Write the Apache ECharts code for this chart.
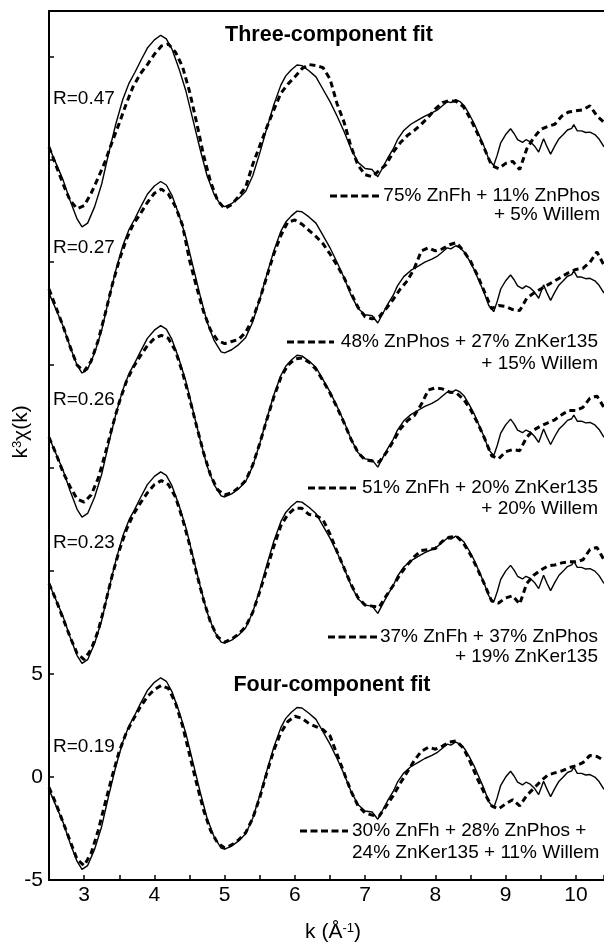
<!DOCTYPE html>
<html>
<head>
<meta charset="utf-8">
<script src="https://cdn.jsdelivr.net/npm/echarts@6/dist/echarts.min.js"></script>
<style>
  html, body { margin: 0; padding: 0; background: #fff; }
  #main { width: 604px; height: 945px; }
</style>
</head>
<body>
<div id="main"></div>
<script>
// measured spectrum (solid line), same data in every panel
var kData = [2.5, 2.6, 2.7, 2.8, 2.9, 2.97, 3.05, 3.15, 3.25, 3.35, 3.45, 3.55, 3.64, 3.72, 3.8, 3.9,
  4.0, 4.09, 4.17, 4.25, 4.35, 4.45, 4.55, 4.65, 4.75, 4.85, 4.95, 5.0, 5.1, 5.2, 5.3, 5.4, 5.5, 5.6,
  5.7, 5.8, 5.87, 5.95, 6.03, 6.1, 6.2, 6.3, 6.4, 6.5, 6.6, 6.7, 6.8, 6.9, 7.0, 7.1, 7.18, 7.25, 7.32,
  7.4, 7.46, 7.55, 7.65, 7.75, 7.85, 7.95, 8.03, 8.1, 8.17, 8.22, 8.29, 8.35, 8.41, 8.48, 8.55, 8.62,
  8.69, 8.76, 8.83, 8.88, 8.93, 9.0, 9.07, 9.12, 9.17, 9.24, 9.29, 9.35, 9.41, 9.47, 9.54, 9.59, 9.64,
  9.7, 9.76, 9.82, 9.88, 9.94, 9.97, 10.02, 10.08, 10.14, 10.2, 10.27, 10.33, 10.4];
var chiData = [-0.6, -1.4, -2.2, -3.2, -4.1, -4.48, -4.3, -3.5, -2.4, -0.9, 0.5, 1.7, 2.5, 3.0, 3.55, 4.2,
  4.6, 4.82, 4.65, 4.15, 3.2, 2.1, 0.7, -0.7, -2.0, -2.9, -3.45, -3.5, -3.35, -3.1, -2.75, -2.0, -0.9, 0.3,
  1.45, 2.4, 2.85, 3.15, 3.38, 3.35, 3.1, 2.8, 2.2, 1.6, 0.9, 0.15, -0.7, -1.35, -1.65, -1.7, -2.05, -1.6, -1.15,
  -0.7, -0.25, 0.2, 0.5, 0.7, 0.9, 1.05, 1.2, 1.4, 1.6, 1.55, 1.7, 1.6, 1.4, 1.0, 0.55, 0.0,
  -0.55, -1.2, -1.5, -1.0, -0.4, 0.0, 0.28, 0.05, -0.25, -0.38, -0.25, -0.35, -0.55, -0.85, -0.2, -0.6, -0.95,
  -0.55, -0.2, 0.0, 0.22, 0.3, 0.48, 0.18, 0.18, 0.1, 0.12, 0.0, -0.22, -0.6];

// fits (dashed lines)
var kFit = [2.5, 2.6, 2.7, 2.8, 2.9, 3.0, 3.1, 3.2, 3.3, 3.4, 3.5, 3.6, 3.7, 3.8, 3.9, 4.0, 4.1, 4.2, 4.3, 4.4,
  4.5, 4.6, 4.7, 4.8, 4.9, 5.0, 5.1, 5.2, 5.3, 5.4, 5.5, 5.6, 5.7, 5.8, 5.9, 6.0, 6.1, 6.2, 6.3, 6.4,
  6.5, 6.6, 6.7, 6.8, 6.9, 7.0, 7.1, 7.2, 7.3, 7.4, 7.5, 7.6, 7.7, 7.8, 7.9, 8.0, 8.1, 8.2, 8.3, 8.4,
  8.5, 8.6, 8.7, 8.8, 8.9, 9.0, 9.1, 9.2, 9.3, 9.4, 9.5, 9.6, 9.7, 9.8, 9.9, 10.0, 10.1, 10.2, 10.3, 10.4];
var fit1 = [-0.6, -1.5, -2.4, -3.2, -3.6, -3.45, -2.85, -2.1, -1.3, -0.35,
  0.55, 1.5, 2.35, 2.95, 3.4, 3.9, 4.3, 4.4, 4.0, 3.3,
  2.1, 0.6, -1.0, -2.3, -3.2, -3.6, -3.4, -3.0, -2.55, -1.45,
  -0.55, 0.35, 1.2, 2.0, 2.45, 2.8, 3.2, 3.4, 3.35, 3.25,
  2.7, 1.5, 0.6, -0.6, -1.5, -1.95, -2.05, -1.75, -1.45, -0.85,
  -0.4, -0.05, 0.2, 0.5, 0.85, 1.25, 1.55, 1.65, 1.6, 1.35,
  0.75, 0.05, -0.7, -1.5, -1.65, -1.4, -1.3, -1.7, -0.7, -0.15,
  0.25, 0.4, 0.5, 0.9, 1.1, 1.15, 1.2, 1.4, 0.9, 0.6];
var fit2 = [-0.4, -1.3, -2.2, -3.2, -4.1, -4.4, -3.9, -2.9, -1.6, -0.2,
  1.0, 2.0, 2.75, 3.25, 3.8, 4.25, 4.45, 4.2, 3.6, 2.7,
  1.0, -0.3, -1.5, -2.4, -2.9, -3.05, -2.95, -2.85, -2.5, -1.85,
  -0.9, 0.2, 1.3, 2.2, 2.85, 2.95, 2.75, 2.45, 2.15, 1.8,
  1.3, 0.75, 0.15, -0.6, -1.3, -1.75, -1.85, -1.75, -1.35, -0.9,
  -0.4, 0.0, 0.6, 1.45, 1.6, 1.45, 1.55, 1.75, 1.85, 1.45,
  0.95, 0.25, -0.55, -1.35, -1.2, -1.25, -1.4, -1.45, -0.85, -0.6,
  -0.4, -0.2, 0.0, 0.2, 0.4, 0.55, 0.6, 0.9, 1.4, 0.75];
var fit3 = [-0.6, -1.4, -2.3, -3.0, -3.6, -3.75, -3.4, -2.6, -1.4, -0.1,
  1.1, 2.1, 2.8, 3.35, 3.85, 4.2, 4.35, 4.2, 3.6, 2.55,
  1.3, -0.05, -1.35, -2.45, -3.15, -3.4, -3.3, -3.05, -2.7, -1.95,
  -0.9, 0.25, 1.35, 2.3, 2.9, 3.2, 3.25, 3.05, 2.7, 2.15,
  1.55, 0.85, 0.1, -0.7, -1.35, -1.7, -1.75, -1.8, -1.35, -0.8,
  -0.2, 0.2, 0.45, 1.0, 1.7, 1.8, 1.75, 1.6, 1.55, 1.25,
  0.75, 0.1, -0.65, -1.5, -1.65, -1.3, -1.2, -1.25, -0.6, -0.25,
  -0.05, 0.1, 0.25, 0.5, 0.7, 0.7, 0.85, 1.3, 1.4, 0.85];
var fit4 = [-0.6, -1.4, -2.3, -3.2, -4.0, -4.3, -3.8, -2.9, -1.6, -0.2,
  1.0, 2.0, 2.75, 3.3, 3.8, 4.2, 4.4, 4.2, 3.6, 2.55,
  1.3, -0.1, -1.4, -2.5, -3.2, -3.45, -3.3, -3.05, -2.7, -2.0,
  -1.0, 0.1, 1.2, 2.2, 2.75, 3.05, 3.05, 2.75, 2.7, 2.5,
  1.8, 0.95, 0.15, -0.65, -1.3, -1.65, -1.7, -1.75, -1.2, -0.7,
  -0.15, 0.3, 0.7, 1.0, 1.05, 1.1, 1.45, 1.65, 1.7, 1.35,
  0.8, 0.1, -0.65, -1.45, -1.55, -1.3, -1.2, -1.6, -0.6, -0.2,
  0.05, 0.25, 0.3, 0.4, 0.45, 0.45, 0.55, 1.05, 1.15, 0.55];
var fit5 = [-0.5, -1.3, -2.2, -3.1, -4.0, -4.3, -3.7, -2.6, -1.25, 0.05,
  1.25, 2.15, 2.8, 3.4, 3.9, 4.25, 4.45, 4.3, 3.6, 2.5,
  1.1, -0.3, -1.6, -2.6, -3.2, -3.45, -3.3, -3.05, -2.7, -2.0,
  -1.0, 0.2, 1.3, 2.15, 2.7, 2.95, 2.85, 2.6, 2.45, 2.3,
  2.0, 1.1, 0.2, -0.7, -1.4, -1.75, -1.85, -1.9, -1.4, -0.9,
  -0.3, 0.25, 0.8, 1.25, 1.45, 1.35, 1.5, 1.7, 1.75, 1.4,
  0.7, -0.1, -0.8, -1.4, -1.55, -1.3, -1.1, -1.4, -0.9, -0.55,
  -0.2, 0.1, 0.2, 0.3, 0.45, 0.55, 0.7, 1.05, 1.0, 0.8];
var fits = [fit1, fit2, fit3, fit4, fit5];

// vertical offset of each panel, top to bottom
var offsets = [31.2, 24.1, 17.1, 10, 0];
var rLabels = ['R=0.47', 'R=0.27', 'R=0.26', 'R=0.23', 'R=0.19'];
var fitLabels = [
  ['75% ZnFh + 11% ZnPhos', '+ 5% Willem'],
  ['48% ZnPhos + 27% ZnKer135', '+ 15% Willem'],
  ['51% ZnFh + 20% ZnKer135', '+ 20% Willem'],
  ['37% ZnFh + 37% ZnPhos', '+ 19% ZnKer135'],
  ['30% ZnFh + 28% ZnPhos +', '24% ZnKer135 + 11% Willem']
];
var titles = ['Three-component fit', 'Four-component fit'];
var xTickLabels = [3, 4, 5, 6, 7, 8, 9, 10];
var yTickLabels = [-5, 0, 5];

var FONT = '"Liberation Sans", Arial, Helvetica, sans-serif';

var series = [];
for (var i = 0; i < 5; i++) {
  series.push({
    type: 'line', showSymbol: false, silent: true,
    data: kData.map(function (k, j) { return [k, chiData[j] + offsets[i]]; }),
    lineStyle: { color: '#000', width: 1.4 }
  });
  series.push({
    type: 'line', showSymbol: false, silent: true,
    data: kFit.map(function (k, j) { return [k, fits[i][j] + offsets[i]]; }),
    lineStyle: { color: '#000', width: 3, type: [6, 4] }
  });
}

// annotation layout (pixels)
var rY = [99, 248, 400, 543, 747];
var fitLayout = [
  { align: 'right', x: 600, y1: 196, y2: 215, d1: 330, d2: 380 },
  { align: 'right', x: 598, y1: 342, y2: 364, d1: 287, d2: 334 },
  { align: 'right', x: 598, y1: 488, y2: 509, d1: 308, d2: 356 },
  { align: 'right', x: 598, y1: 637, y2: 657, d1: 328, d2: 378 },
  { align: 'left',  x: 352, y1: 831, y2: 853, d1: 300, d2: 348 }
];

function txt(text, x, y, size, align, weight) {
  return {
    type: 'text', x: x, y: y, silent: true,
    style: {
      text: text, fill: '#000',
      font: (weight || 'normal') + ' ' + size + 'px ' + FONT,
      align: align, verticalAlign: 'middle',
      textAlign: align, textVerticalAlign: 'middle'
    }
  };
}

var graphics = [];
graphics.push(txt(titles[0], 329, 35, 21.5, 'center', 'bold'));
graphics.push(txt(titles[1], 332, 685, 21.5, 'center', 'bold'));
for (var p = 0; p < 5; p++) {
  graphics.push(txt(rLabels[p], 53, rY[p], 19, 'left'));
  var L = fitLayout[p];
  graphics.push(txt(fitLabels[p][0], L.x, L.y1, 19, L.align));
  graphics.push(txt(fitLabels[p][1], L.x, L.y2, 19, L.align));
  graphics.push({
    type: 'line', silent: true,
    shape: { x1: L.d1, y1: L.y1, x2: L.d2, y2: L.y1 },
    style: { stroke: '#000', lineWidth: 3, lineDash: [7, 3.5] }
  });
}
// axis titles
graphics.push({
  type: 'text', x: 333, y: 932, silent: true,
  style: {
    text: 'k (Å{sup|-1})', fill: '#000', font: '21px ' + FONT,
    align: 'center', verticalAlign: 'middle', textAlign: 'center', textVerticalAlign: 'middle',
    rich: { sup: { fontSize: 13, fontFamily: FONT, verticalAlign: 'top', lineHeight: 13 } }
  }
});
graphics.push({
  type: 'text', x: 21, y: 432, rotation: Math.PI / 2, silent: true,
  style: {
    text: 'k{sup|3}χ(k)', fill: '#000', font: '21px ' + FONT,
    align: 'center', verticalAlign: 'middle', textAlign: 'center', textVerticalAlign: 'middle',
    rich: { sup: { fontSize: 13, fontFamily: FONT, verticalAlign: 'top', lineHeight: 13 } }
  }
});

var chart = echarts.init(document.getElementById('main'), null, { renderer: 'canvas' });
chart.setOption({
  animation: false,
  backgroundColor: '#fff',
  grid: { left: 49, right: 0, top: 11, bottom: 65, containLabel: false, outerBoundsMode: 'none' },
  xAxis: [{
    type: 'value', min: 2.5, max: 10.4, interval: 0.5,
    axisLine: { show: true, onZero: false, lineStyle: { color: '#000', width: 2 } },
    axisTick: { show: true, inside: true, length: 5, lineStyle: { color: '#000', width: 1.5 } },
    axisLabel: {
      color: '#000', fontSize: 21, fontFamily: FONT, margin: 5,
      formatter: function (v) { return xTickLabels.indexOf(v) >= 0 ? String(v) : ''; }
    },
    splitLine: { show: false }
  }, {
    type: 'value', position: 'top', min: 2.5, max: 10.4,
    axisLine: { show: true, onZero: false, lineStyle: { color: '#000', width: 2 } },
    axisTick: { show: false }, axisLabel: { show: false }, splitLine: { show: false }
  }],
  yAxis: {
    type: 'value', min: -5, max: 37.2, interval: 5,
    axisLine: { show: true, onZero: false, lineStyle: { color: '#000', width: 2 } },
    axisTick: { show: true, inside: true, length: 5, lineStyle: { color: '#000', width: 1.5 } },
    axisLabel: {
      color: '#000', fontSize: 21, fontFamily: FONT, margin: 6,
      formatter: function (v) { return yTickLabels.indexOf(v) >= 0 ? String(v) : ''; }
    },
    splitLine: { show: false }
  },
  series: series,
  graphic: graphics
});
</script>
</body>
</html>
